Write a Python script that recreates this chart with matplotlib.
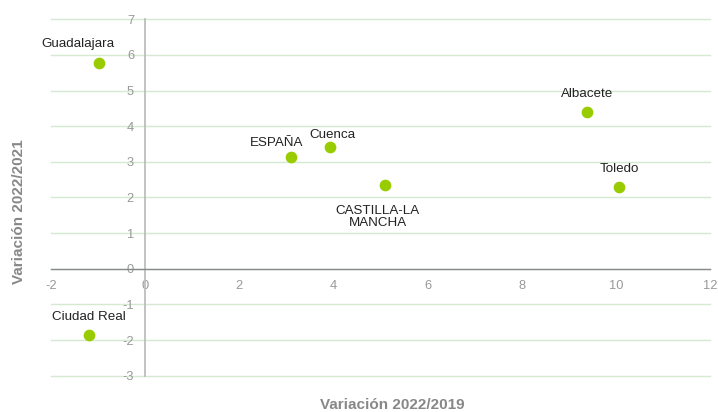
import matplotlib
matplotlib.use('Agg')
import matplotlib.pyplot as plt

plt.rcParams['font.family'] = ['Liberation Sans', 'DejaVu Sans']

# data
names = ['Guadalajara', 'ESPAÑA', 'Cuenca', 'CASTILLA-LA\nMANCHA', 'Albacete', 'Toledo', 'Ciudad Real']
var_2019 = [-0.99, 3.09, 3.92, 5.09, 9.39, 10.07, -1.20]
var_2021 = [5.77, 3.13, 3.43, 2.35, 4.39, 2.30, -1.87]
# label offsets (points) relative to each point
offsets = [(-15, 14), (-10, 10), (2, 8), (-5, -23), (0, 13), (0, 13), (0, 13)]

xticks = [-2, 0, 2, 4, 6, 8, 10, 12]
yticks = [-3, -2, -1, 0, 1, 2, 3, 4, 5, 6, 7]

fig = plt.figure(figsize=(7.18, 4.12), dpi=100)
ax = fig.add_axes([51 / 718, 1 - 375.7 / 412, (710 - 51) / 718, (375.7 - 19.3) / 412])

ax.set_xlim(-2, 12)
ax.set_ylim(-3, 7)
ax.set_xticks(xticks)
ax.set_yticks(yticks)
ax.set_xticklabels([str(t) for t in xticks])
ax.set_yticklabels([str(t) for t in yticks])

ax.spines['top'].set_visible(False)
ax.spines['right'].set_visible(False)
ax.spines['left'].set_position(('data', 0))
ax.spines['bottom'].set_position(('data', 0))
ax.spines['left'].set_color('#bdbdbd')
ax.spines['left'].set_linewidth(1.3)
ax.spines['bottom'].set_color('#8a8a8a')
ax.spines['bottom'].set_linewidth(1.0)

ax.tick_params(axis='both', length=0, colors='#999999', labelsize=9.3)
ax.tick_params(axis='y', pad=8)
ax.tick_params(axis='x', pad=8)
ax.yaxis.grid(True, color='#d6ead2', linewidth=1.0)
for gl in ax.get_ygridlines():
    gl.set_clip_on(False)
ax.set_axisbelow(True)

ax.scatter(var_2019, var_2021, s=55, color='#99cc00', zorder=3, clip_on=False)

for n, x, y, (dx, dy) in zip(names, var_2019, var_2021, offsets):
    ax.annotate(n, (x, y), xytext=(dx, dy), textcoords='offset points',
                ha='center', va='center', fontsize=9.6, color='#222222',
                linespacing=1.1)

fig.text(392 / 718, 1 - 405 / 412, 'Variación 2022/2019', ha='center', va='center',
         fontsize=11, fontweight='bold', color='#888888')
fig.text(19 / 718, 1 - 212 / 412, 'Variación 2022/2021', ha='center', va='center',
         rotation=90, fontsize=11, fontweight='bold', color='#888888')

fig.savefig('out.png', dpi=100)
